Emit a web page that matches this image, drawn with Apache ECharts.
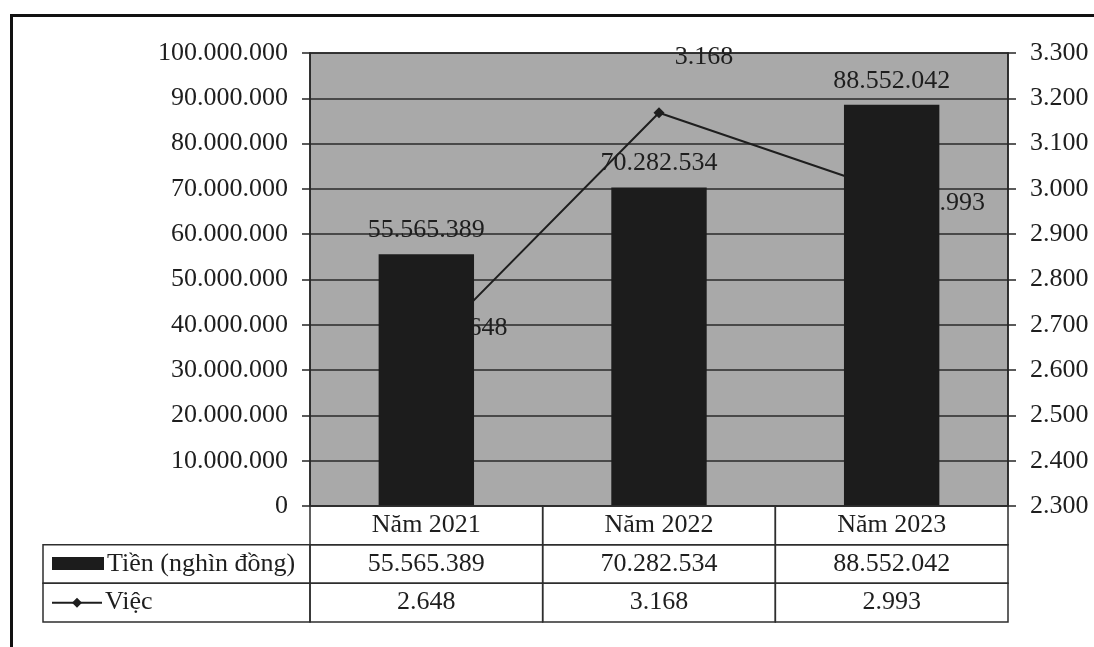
<!DOCTYPE html>
<html>
<head>
<meta charset="utf-8">
<script src="https://cdn.jsdelivr.net/npm/echarts@6/dist/echarts.min.js"></script>
<style>
html,body{margin:0;padding:0;background:#fff;}
#chart{width:1094px;height:647px;}
</style>
</head>
<body>
<div id="chart"></div>
<script>
// ---- data ----
const categories = ['Năm 2021', 'Năm 2022', 'Năm 2023'];
const seriesNames = ['Tiền (nghìn đồng)', 'Việc'];
const moneyValues = [55565389, 70282534, 88552042];
const jobValues = [2648, 3168, 2993];
const leftTicks = { min: 0, max: 100000000, interval: 10000000 };
const rightTicks = { min: 2300, max: 3300, interval: 100 };

// ---- helpers ----
const fmt = n => String(Math.round(n)).replace(/\B(?=(\d{3})+(?!\d))/g, '.');
const FONT = '"Liberation Serif", "Times New Roman", serif';
const FS = 26;
const TXT = '#1e1e1e';

// table cells built from the arrays
const cells = [];
categories.forEach((c, i) => cells.push({ col: i, row: 0, text: c }));
moneyValues.forEach((v, i) => cells.push({ col: i, row: 1, text: fmt(v) }));
jobValues.forEach((v, i) => cells.push({ col: i, row: 2, text: fmt(v) }));
cells.push({ col: -1, row: 1, text: seriesNames[0], legend: 'bar' });
cells.push({ col: -1, row: 2, text: seriesNames[1], legend: 'line' });

const TABLE_LEFT = 43;
const lineLabelOffsets = [[52, -20], [45, -56], [64, 11]];

const chart = echarts.init(document.getElementById('chart'));

const option = {
  backgroundColor: '#ffffff',
  animation: false,
  graphic: [{
    type: 'rect', left: 9, top: 13, z: 100,
    shape: { width: 1110, height: 700 },
    style: { fill: 'none', stroke: '#111', lineWidth: 3 }
  }],
  grid: [
    { left: 310, right: 86, top: 53, bottom: 141, show: true,
      backgroundColor: '#a9a9a9', borderColor: '#262626', borderWidth: 1.5 },
    { left: 310, right: 86, top: 506, height: 116, show: false }
  ],
  xAxis: [
    { type: 'category', gridIndex: 0, data: categories,
      axisLine: { show: false }, axisTick: { show: false }, axisLabel: { show: false } },
    { type: 'category', gridIndex: 1, data: categories, show: false }
  ],
  yAxis: [
    { type: 'value', gridIndex: 0, min: leftTicks.min, max: leftTicks.max, interval: leftTicks.interval,
      axisLine: { show: true, lineStyle: { color: '#262626', width: 1.5 } },
      axisTick: { show: true, length: 8, lineStyle: { color: '#262626', width: 1.5 } },
      axisLabel: { margin: 22, color: TXT, fontSize: FS, fontFamily: FONT, formatter: v => fmt(v) },
      splitLine: { show: true, lineStyle: { color: '#2a2a2a', width: 1.5 } } },
    { type: 'value', gridIndex: 0, position: 'right', min: rightTicks.min, max: rightTicks.max, interval: rightTicks.interval,
      axisLine: { show: true, lineStyle: { color: '#262626', width: 1.5 } },
      axisTick: { show: true, length: 8, lineStyle: { color: '#262626', width: 1.5 } },
      axisLabel: { margin: 22, color: TXT, fontSize: FS, fontFamily: FONT, formatter: v => fmt(v) },
      splitLine: { show: false } },
    { type: 'category', gridIndex: 1, data: ['0', '1', '2'], inverse: true, show: false }
  ],
  series: [
    {
      name: seriesNames[0], type: 'bar', xAxisIndex: 0, yAxisIndex: 0, z: 3,
      data: moneyValues, barWidth: '41%',
      itemStyle: { color: '#1c1c1c' },
      label: { show: true, position: 'top', distance: 11, color: TXT, fontSize: FS, fontFamily: FONT,
        formatter: p => fmt(p.value) }
    },
    {
      name: seriesNames[1], type: 'line', xAxisIndex: 0, yAxisIndex: 1, z: 2,
      data: jobValues.map((v, i) => ({
        value: v,
        label: { offset: lineLabelOffsets[i] }
      })),
      symbol: 'diamond', symbolSize: 11,
      lineStyle: { color: '#1e1e1e', width: 2 },
      itemStyle: { color: '#1e1e1e' },
      label: { show: true, position: 'inside', color: TXT, fontSize: FS, fontFamily: FONT,
        formatter: p => fmt(p.value) }
    },
    {
      type: 'custom', xAxisIndex: 1, yAxisIndex: 2, coordinateSystem: 'cartesian2d',
      clip: false, silent: true, z: 5,
      data: cells.map(c => [Math.max(c.col, 0), c.row]),
      renderItem: function (params, api) {
        const cell = cells[params.dataIndex];
        const center = api.coord([api.value(0), api.value(1)]);
        const size = api.size([1, 1]);
        const cs = params.coordSys;
        const h = size[1];
        const top = center[1] - h / 2;
        const children = [];
        const stroke = { fill: 'none', stroke: '#2e2e2e', lineWidth: 1.5 };
        if (cell.col >= 0) {
          const w = size[0];
          children.push({ type: 'rect', shape: { x: center[0] - w / 2, y: top, width: w, height: h }, style: stroke });
          children.push({ type: 'text', style: { text: cell.text, x: center[0], y: center[1],
            align: 'center', verticalAlign: 'middle', fill: TXT, font: FS + 'px ' + FONT } });
        } else {
          children.push({ type: 'rect', shape: { x: TABLE_LEFT, y: top, width: cs.x - TABLE_LEFT, height: h }, style: stroke });
          let tx;
          if (cell.legend === 'bar') {
            children.push({ type: 'rect', shape: { x: TABLE_LEFT + 9, y: center[1] - 7, width: 52, height: 13 },
              style: { fill: '#1c1c1c' } });
            tx = TABLE_LEFT + 64;
          } else {
            children.push({ type: 'line', shape: { x1: TABLE_LEFT + 9, y1: center[1], x2: TABLE_LEFT + 59, y2: center[1] },
              style: { stroke: '#1e1e1e', lineWidth: 2 } });
            const mx = TABLE_LEFT + 34, my = center[1];
            children.push({ type: 'polygon', shape: { points: [[mx, my - 5], [mx + 5, my], [mx, my + 5], [mx - 5, my]] },
              style: { fill: '#1e1e1e' } });
            tx = TABLE_LEFT + 62;
          }
          children.push({ type: 'text', style: { text: cell.text, x: tx, y: center[1],
            align: 'left', verticalAlign: 'middle', fill: TXT, font: FS + 'px ' + FONT } });
        }
        return { type: 'group', children: children };
      }
    }
  ]
};
chart.setOption(option);
</script>
</body>
</html>
